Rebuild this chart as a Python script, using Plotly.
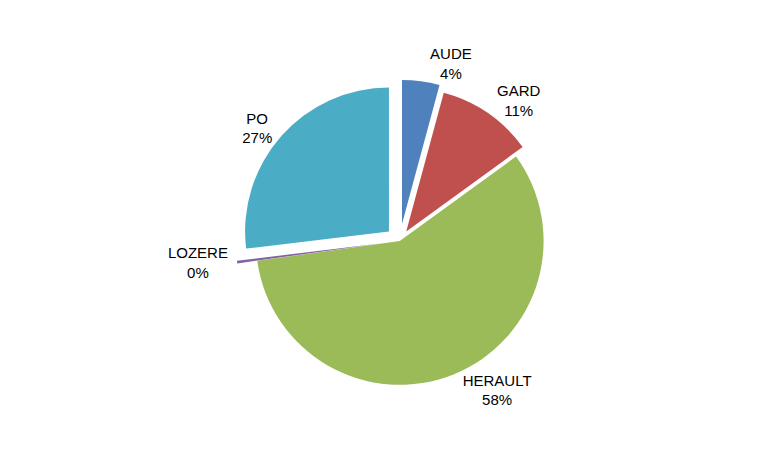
import plotly.graph_objects as go

labels = ["AUDE", "GARD", "HERAULT", "LOZERE", "PO"]
values = [4.2, 10.8, 57.8, 0.3, 26.9]
colors = ["#4F81BD", "#C0504D", "#9BBB59", "#8064A2", "#4BACC6"]
pulls = [0.12, 0.08, 0.0, 0.14, 0.1]

fig = go.Figure(go.Pie(
    labels=labels,
    values=values,
    sort=False,
    direction="clockwise",
    rotation=0,
    pull=pulls,
    marker=dict(colors=colors, line=dict(color="white", width=0)),
    texttemplate="%{label}<br>%{percent:.0%}",
    textposition="outside",
    textfont=dict(family="Liberation Sans", size=15, color="black"),
    showlegend=False,
    domain=dict(x=[0.0, 0.76], y=[0.0, 1.0]),
))

fig.update_layout(
    width=778, height=454,
    margin=dict(l=10, r=10, t=28, b=14),
    paper_bgcolor="white",
    plot_bgcolor="white",
)

fig.write_html("out.html")
